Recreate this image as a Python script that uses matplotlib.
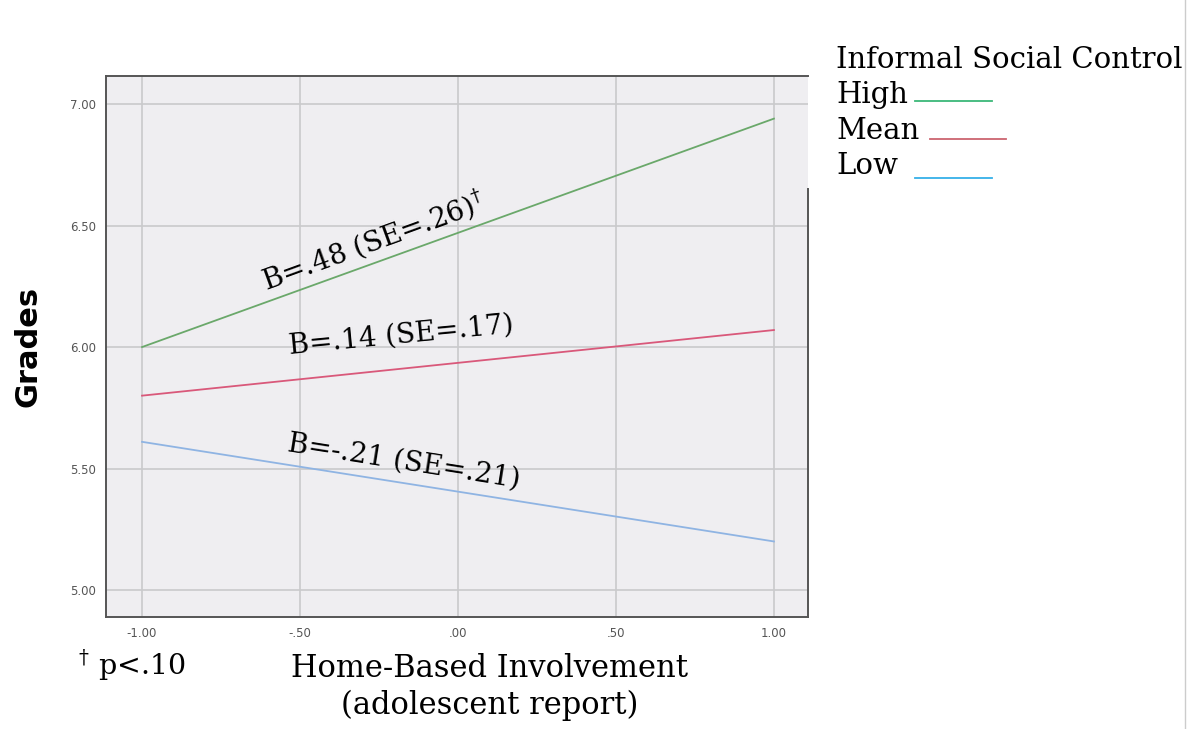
import matplotlib.pyplot as plt
from matplotlib.lines import Line2D

plt.rcParams['mathtext.fontset'] = 'dejavuserif'

# data
x_vals = [-1.0, 1.0]
high = [6.00, 6.94]
mean = [5.80, 6.07]
low = [5.61, 5.20]
x_ticks = [-1.0, -0.5, 0.0, 0.5, 1.0]
x_tick_labels = ["-1.00", "-.50", ".00", ".50", "1.00"]
y_ticks = [5.0, 5.5, 6.0, 6.5, 7.0]
y_tick_labels = ["5.00", "5.50", "6.00", "6.50", "7.00"]
series_names = ["High", "Mean", "Low"]
line_colors = ["#6aa86a", "#d9587a", "#8fb4e3"]
legend_colors = ["#3cb878", "#cc6470", "#35b0e8"]

serif = "DejaVu Serif"

fig = plt.figure(figsize=(11.98, 7.29), dpi=100)
ax = fig.add_axes([0.0885, 0.1536, 0.586, 0.742])
ax.set_facecolor("#efeef1")

for ys, c in zip([high, mean, low], line_colors):
    ax.plot(x_vals, ys, color=c, lw=1.3)

ax.set_xlim(-1.114, 1.108)
ax.set_ylim(4.889, 7.115)
ax.set_xticks(x_ticks)
ax.set_xticklabels(x_tick_labels)
ax.set_yticks(y_ticks)
ax.set_yticklabels(y_tick_labels)
ax.tick_params(axis="both", length=0, labelsize=8.5, colors="#555555", pad=7)
ax.grid(True, color="#c9c9cb", lw=1.2)
ax.set_axisbelow(True)
for s in ax.spines.values():
    s.set_color("#555555")
    s.set_linewidth(1.4)
ax.spines["right"].set_bounds(4.889, 6.65)

# slope annotations
ax.text(-0.27, 6.44, r"B=.48 (SE=.26)$^{\dagger}$", rotation=20, ha="center",
        va="center", fontsize=20, family=serif, rotation_mode="anchor")
ax.text(-0.18, 6.05, "B=.14 (SE=.17)", rotation=5.5, ha="center", va="center",
        fontsize=20, family=serif, rotation_mode="anchor")
ax.text(-0.17, 5.53, "B=-.21 (SE=.21)", rotation=-9, ha="center", va="center",
        fontsize=20, family=serif, rotation_mode="anchor")

ax.set_ylabel("Grades", fontsize=22, fontweight="bold", labelpad=20)

fig.text(0.409, 0.083, "Home-Based Involvement", ha="center", va="center",
         fontsize=22, family=serif)
fig.text(0.409, 0.033, "(adolescent report)", ha="center", va="center",
         fontsize=22, family=serif)
fig.text(0.065, 0.087, r"$^{\dagger}$ p<.10", ha="left", va="center",
         fontsize=20.5, family=serif)

# legend
fig.text(0.698, 0.918, "Informal Social Control", ha="left", va="center",
         fontsize=21, family=serif)
text_y = [0.869, 0.820, 0.772]
line_y = [0.8615, 0.809, 0.756]
legend_x = [(0.764, 0.828), (0.776, 0.840), (0.764, 0.828)]
for name, c, ty, ly, (x0, x1) in zip(series_names, legend_colors, text_y, line_y, legend_x):
    fig.text(0.698, ty, name, ha="left", va="center", fontsize=21, family=serif)
    fig.add_artist(Line2D([x0, x1], [ly, ly], color=c, lw=1.3))

fig.add_artist(Line2D([0.989, 0.989], [0.0, 1.0], color="#cccccc", lw=1.0))

fig.savefig("out.png", dpi=100)
